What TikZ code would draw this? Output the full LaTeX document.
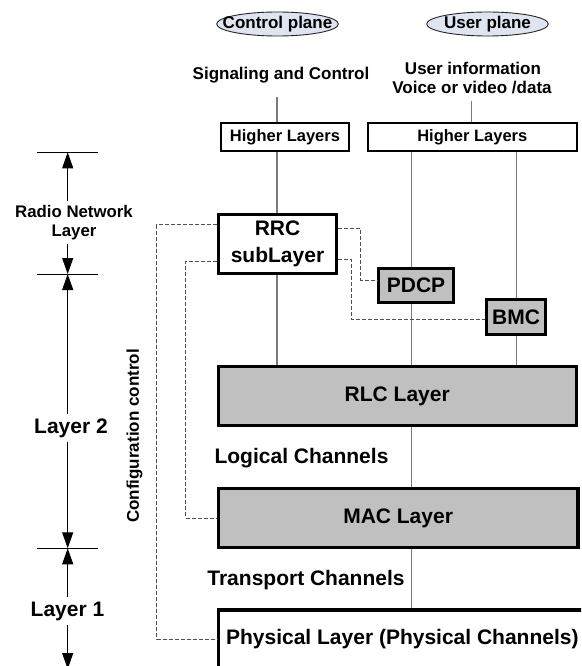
\documentclass[tikz,border=0pt]{standalone}
\usepackage{fontspec}
\setmainfont{Liberation Sans}
\usetikzlibrary{arrows.meta,calc,shapes.geometric}

\definecolor{planefill}{HTML}{DFE5F0}
\definecolor{layerfill}{HTML}{C0C0C0}
\definecolor{wire}{HTML}{7A7A7A}
\definecolor{cfgline}{HTML}{505050}

\begin{document}
\begin{tikzpicture}[x=1pt,y=-1pt,
  every node/.style={font=\bfseries},
  plane/.style={ellipse, draw=black!85, line width=0.9pt, fill=planefill, inner sep=0pt,
    minimum width=121.6pt, minimum height=24pt, font=\bfseries\fontsize{17}{20}\selectfont},
  label/.style={inner sep=0pt, font=\bfseries\fontsize{17}{19}\selectfont},
  higher/.style={draw, line width=2pt, fill=white, inner sep=0pt, minimum height=28.3pt,
    font=\bfseries\fontsize{16.5}{19}\selectfont},
  subbox/.style={draw, line width=3.3pt, fill=white, inner sep=0pt,
    font=\bfseries\fontsize{21}{27}\selectfont},
  layerbox/.style={subbox, fill=layerfill},
  caption/.style={inner sep=0pt, font=\bfseries\fontsize{21}{25}\selectfont},
  wireline/.style={draw=wire, line width=1.1pt},
  cfg/.style={draw=cfgline, line width=1pt, dash pattern=on 4pt off 2pt},
  dimline/.style={line width=1pt, -{Triangle[length=16pt,width=11pt]}},
  tick/.style={line width=1pt},
]

\useasboundingbox (0,0) rectangle (581,666);
\clip (0,0) rectangle (581,666);

% planes and their traffic
\node[plane] (cp) at (277.5,24) {\makebox[0pt]{Control plane}};
\node[plane] (up) at (487.5,24) {\makebox[0pt]{User plane}};
\node[label, anchor=base] (sig) at (281,80) {Signaling and Control};
\node[label, anchor=base] (ui1) at (473,75) {User information};
\node[label, anchor=base] (ui2) at (472,94) {Voice or video /data};

% protocol stack
\node[higher, minimum width=128pt] (hl) at (285,136.85) {Higher Layers};
\node[higher, minimum width=209.3pt] (hr) at (472.3,136.85) {Higher Layers};
\node[subbox, align=center, minimum width=118.3pt, minimum height=59pt] (rrc) at (277.5,243.85) {RRC\\subLayer};
\node[layerbox, minimum width=74.7pt, minimum height=33.7pt] (pd) at (416,285.5) {PDCP};
\node[layerbox, minimum width=58.7pt, minimum height=34.7pt] (bm) at (516,317) {BMC};
\node[layerbox, minimum width=358.2pt, minimum height=58.7pt] (rlc) at (397.25,396) {RLC Layer};
\node[layerbox, minimum width=359.5pt, minimum height=59.3pt] (mac) at (398.1,518) {MAC Layer};
\node[subbox, line width=3.5pt, minimum width=367.8pt, minimum height=57.9pt] (phy) at (402.35,639) {Physical Layer (Physical Channels)};

\node[caption, anchor=base] (lc) at (301.5,463.5) {Logical Channels};
\node[caption, anchor=base] (tc) at (306,585) {Transport Channels};
\node[rotate=90, inner sep=0pt, font=\bfseries\fontsize{17}{20}\selectfont] (cc) at (134.5,436) {Configuration control};

% columns of the data paths
\coordinate (colC) at (277,0);
\coordinate (colU) at (471.5,0);
\coordinate (colA) at (411.7,0);
\coordinate (colB) at (516.7,0);

\draw[wireline, shorten <=13pt] (colC |- sig.south) -- (colC |- hl.north);
\draw[wireline, shorten <=6.4pt] (colU |- ui2.south) -- (colU |- hr.north);
\draw[wireline] (colC |- hl.south) -- (colC |- rrc.north);
\draw[wireline] (colC |- rrc.south) -- (colC |- rlc.north);
\draw[wireline] (colA |- hr.south) -- (colA |- pd.north);
\draw[wireline] (colA |- pd.south) -- (colA |- rlc.north);
\draw[wireline] (colB |- hr.south) -- (colB |- bm.north);
\draw[wireline] (colB |- bm.south) -- (colB |- rlc.north);
\draw[wireline] (colA |- rlc.south) -- (colA |- mac.north);
\draw[wireline] (colA |- mac.south) -- (colA |- phy.north);

% configuration control from RRC
\coordinate (k1) at (360.7,0);
\coordinate (k2) at (351.7,0);
\coordinate (k3) at (156.7,0);
\coordinate (k4) at (185.7,0);
\draw[cfg] ([yshift=15.5pt]rrc.east) -| ($(k1 |- pd.west)+(0,-5.5)$) -- ($(pd.west)+(0,-5.5)$);
\draw[cfg] ([yshift=-15.2pt]rrc.east) -| ($(k2 |- bm.west)+(0,2.3)$) -- ($(bm.west)+(0,2.3)$);
\draw[cfg] ([yshift=18.9pt]rrc.west) -| (k3 |- phy.west) -- (phy.west);
\draw[cfg] ([yshift=-17.2pt]rrc.west) -| (k4 |- mac.west) -- (mac.west);

% layer extents on the left
\coordinate (d0) at (67.7,152.3);
\coordinate (d1) at (67.7,274);
\coordinate (d2) at (67.7,548.3);
\coordinate (d3) at (67.7,669);
\draw[tick] ([xshift=-30.7pt]d0) -- ([xshift=30.3pt]d0);
\draw[tick] ([xshift=-30.7pt]d1) -- ([xshift=30.3pt]d1);
\draw[tick] ([xshift=-30.7pt]d2) -- ([xshift=30.3pt]d2);

\node[align=center, inner sep=4pt, font=\bfseries\fontsize{16.8}{19.4}\selectfont] (rnl) at (74,222.6) {Radio Network\\Layer};
\node[caption, inner sep=4pt, anchor=base] (l2) at (71,433) {Layer 2};
\node[caption, inner sep=4pt, anchor=base] (l1) at (67.5,616) {Layer 1};

\draw[dimline] (d0 |- rnl.north) -- (d0);
\draw[dimline] (d0 |- rnl.south) -- (d1);
\draw[dimline] (d1 |- l2.north) -- (d1);
\draw[dimline] (d1 |- l2.south) -- (d2);
\draw[dimline] (d2 |- l1.north) -- (d2);
\draw[dimline] (d2 |- l1.south) -- (d3);
\end{tikzpicture}
\end{document}
